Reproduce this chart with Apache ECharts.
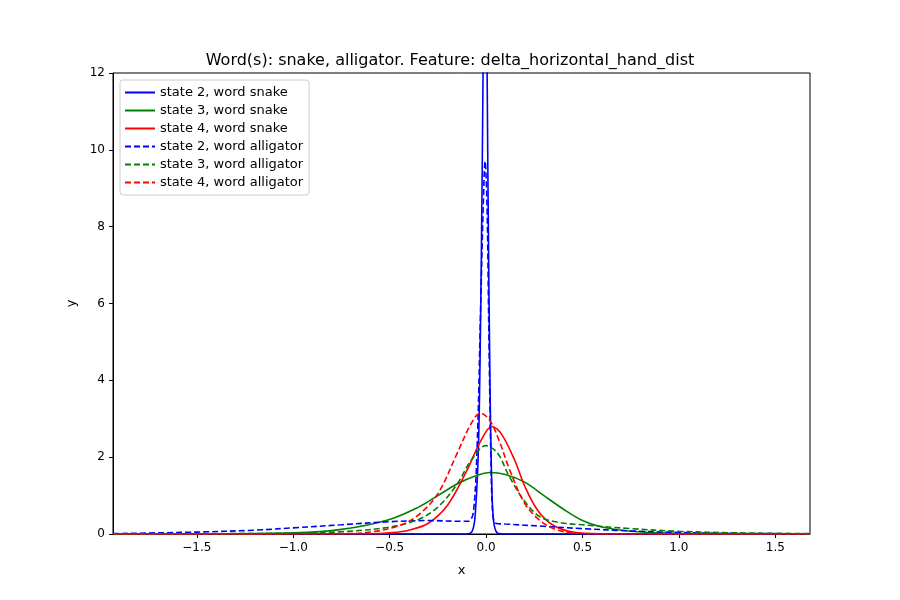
<!DOCTYPE html>
<html>
<head>
<meta charset="UTF-8">
<script src="https://cdn.jsdelivr.net/npm/echarts@6/dist/echarts.min.js"></script>
<style>
  body { margin: 0; background: #fff; }
  #chart { width: 900px; height: 600px; }
</style>
</head>
<body>
<div id="chart"></div>
<script>
  // values, [x, y]
  const snake2 = [[-1.935,0],[-0.5,0],[-0.1,0],[-0.07,0.1],[-0.055,0.6],[-0.04,2.2],[-0.03,5],[-0.02,9.5],[-0.012,14],[-0.005,16],[0.002,14],[0.01,9],[0.02,4],[0.03,1.2],[0.04,0.3],[0.06,0.02],[0.1,0],[1.68,0]];
  const snake3 = [[-1.935,0],[-1.5,0.005],[-1.0,0.03],[-0.75,0.12],[-0.5,0.38],[-0.35,0.7],[-0.25,1.0],[-0.15,1.3],[-0.05,1.52],[0.02,1.6],[0.1,1.55],[0.2,1.35],[0.3,1.0],[0.4,0.65],[0.5,0.35],[0.6,0.18],[0.75,0.07],[1.0,0.015],[1.68,0]];
  const snake4 = [[-1.935,0],[-0.6,0.005],[-0.5,0.03],[-0.4,0.1],[-0.3,0.28],[-0.2,0.75],[-0.1,1.65],[-0.03,2.4],[0.03,2.8],[0.08,2.6],[0.15,1.9],[0.2,1.25],[0.27,0.6],[0.35,0.22],[0.45,0.05],[0.6,0.005],[1.68,0]];
  const alli2 = [[-1.935,0.01],[-1.5,0.05],[-1.2,0.1],[-1.0,0.16],[-0.75,0.24],[-0.5,0.32],[-0.3,0.35],[-0.12,0.33],[-0.09,0.33],[-0.065,0.6],[-0.045,2.5],[-0.03,5.5],[-0.015,8.5],[-0.005,9.7],[0.005,8.5],[0.015,5],[0.025,2],[0.035,0.5],[0.05,0.28],[0.1,0.26],[0.3,0.2],[0.5,0.14],[0.75,0.08],[1.0,0.04],[1.3,0.015],[1.68,0.005]];
  const alli3 = [[-1.935,0],[-1.0,0.02],[-0.75,0.06],[-0.5,0.18],[-0.35,0.38],[-0.25,0.7],[-0.15,1.3],[-0.08,1.9],[0,2.3],[0.06,2.1],[0.12,1.5],[0.2,0.85],[0.28,0.45],[0.38,0.3],[0.5,0.24],[0.75,0.14],[1.0,0.07],[1.3,0.03],[1.68,0.01]];
  const alli4 = [[-1.935,0],[-0.75,0.01],[-0.6,0.05],[-0.45,0.22],[-0.35,0.5],[-0.25,1.05],[-0.15,2.1],[-0.08,2.85],[-0.03,3.15],[0.02,2.95],[0.07,2.4],[0.12,1.7],[0.2,0.8],[0.28,0.35],[0.36,0.12],[0.45,0.03],[0.6,0],[1.68,0]];
  const xTicks = [-1.5, -1.0, -0.5, 0.0, 0.5, 1.0, 1.5];

  const fmt = v => (v < 0 ? '\u2212' : '') + Math.abs(v).toFixed(1);
  function line(name, data, color, dashed) {
    return {
      name, type: 'line', data, showSymbol: false, symbol: 'none', smooth: 0.35,
      lineStyle: { color, width: 1.6, type: dashed ? [6, 3] : 'solid' },
      itemStyle: { color }, clip: true
    };
  }
  const chart = echarts.init(document.getElementById('chart'));
  chart.setOption({
    animation: false,
    title: { text: 'Word(s): snake, alligator. Feature: delta_horizontal_hand_dist', left: 'center', top: 48,
      textStyle: { fontSize: 16, fontWeight: 'normal', color: '#000', fontFamily: 'DejaVu Sans' } },
    grid: { left: 113, right: 90, top: 73, bottom: 66 },
    legend: {
      orient: 'vertical', left: 120, top: 80, itemGap: 5, itemWidth: 30, itemHeight: 10,
      padding: [6, 6, 6, 4], borderColor: '#ccc', borderWidth: 1, borderRadius: 3,
      itemStyle: { opacity: 0 },
      textStyle: { fontSize: 13, color: '#000', fontFamily: 'DejaVu Sans' }
    },
    xAxis: {
      type: 'value', min: -1.935, max: 1.68, name: 'x', nameLocation: 'middle', nameGap: 30,
      nameTextStyle: { fontSize: 13, color: '#000', fontFamily: 'DejaVu Sans' },
      axisLine: { onZero: false, lineStyle: { color: '#000' } },
      axisTick: { customValues: xTicks, length: 4, lineStyle: { color: '#000' } },
      axisLabel: { customValues: xTicks, formatter: fmt, color: '#000', fontSize: 12, fontFamily: 'DejaVu Sans' },
      splitLine: { show: false }
    },
    yAxis: {
      type: 'value', min: 0, max: 12, interval: 2, name: 'y', nameLocation: 'middle', nameGap: 35,
      nameTextStyle: { fontSize: 13, color: '#000', fontFamily: 'DejaVu Sans' },
      axisLine: { show: true, onZero: false, lineStyle: { color: '#000' } },
      axisTick: { show: true, length: 4, lineStyle: { color: '#000' } },
      axisLabel: { color: '#000', fontSize: 12, fontFamily: 'DejaVu Sans' },
      splitLine: { show: false }
    },
    series: [
      line('state 2, word snake', snake2, '#0000ff', false),
      line('state 3, word snake', snake3, '#008000', false),
      line('state 4, word snake', snake4, '#ff0000', false),
      line('state 2, word alligator', alli2, '#0000ff', true),
      line('state 3, word alligator', alli3, '#008000', true),
      line('state 4, word alligator', alli4, '#ff0000', true)
    ],
    graphic: [{ type: 'rect', shape: { x: 113, y: 73, width: 697, height: 461 },
      style: { fill: 'none', stroke: '#000', lineWidth: 1 }, silent: true }]
  });
</script>
</body>
</html>
